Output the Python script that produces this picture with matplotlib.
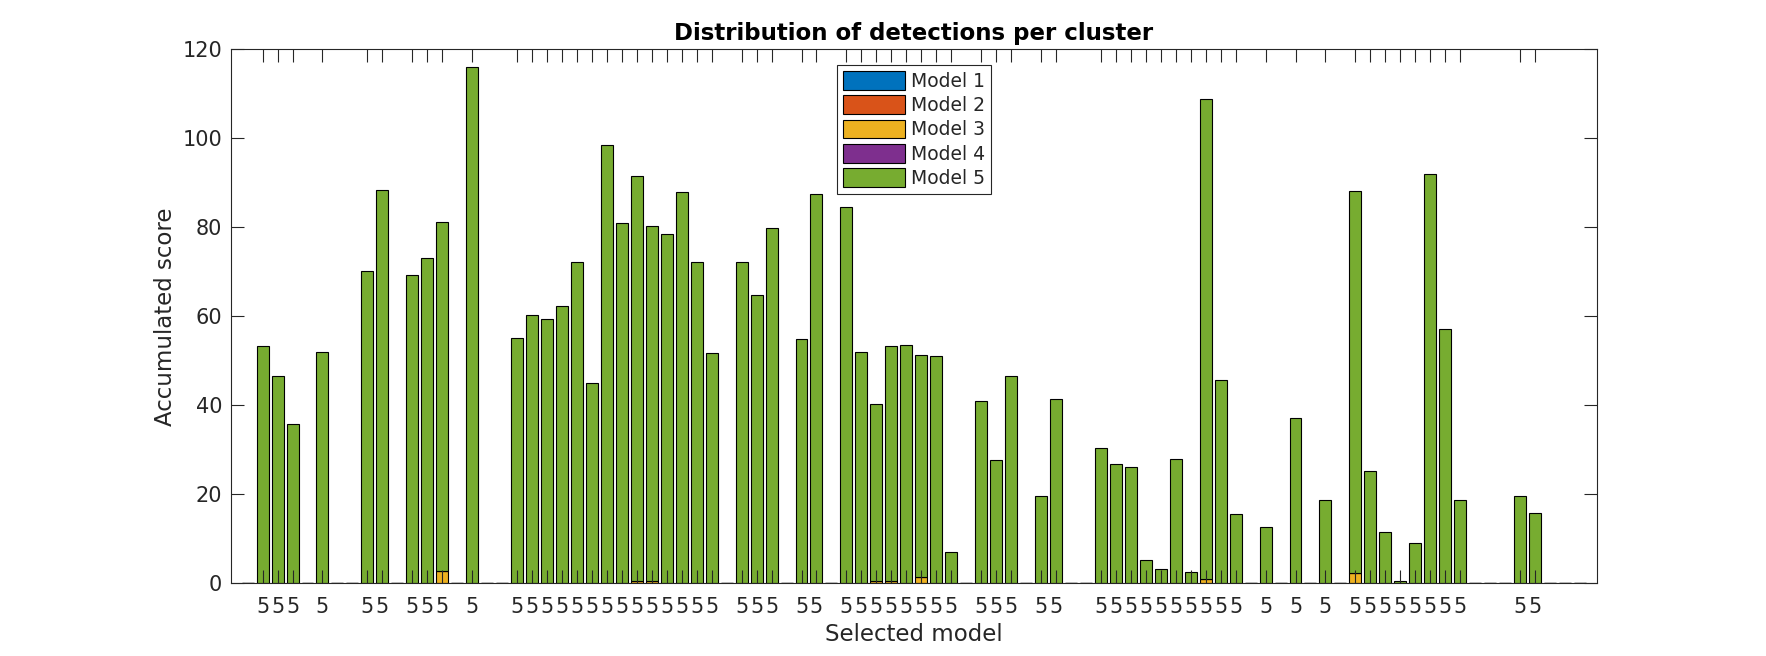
import matplotlib
matplotlib.use("Agg")
import matplotlib.pyplot as plt
import numpy as np

plt.rcParams['font.family'] = ['DejaVu Sans']

# ---- data -------------------------------------------------------------
clusters = list(range(1, 91))
series_names = ["Model 1", "Model 2", "Model 3", "Model 4", "Model 5"]
colors = ["#0072BD", "#D95319", "#EDB120", "#7E2F8E", "#77AC30"]

# accumulated score of Model 3 (non-zero entries only, cluster -> value)
model3_scores = {14: 2.8, 27: 0.5, 28: 0.6, 43: 0.5, 44: 0.6, 46: 1.5,
                 65: 1.0, 75: 2.3}
# total accumulated score per cluster (non-zero entries only)
total_scores = {
    2: 53.3, 3: 46.5, 4: 35.8, 6: 52.0, 9: 70.3, 10: 88.5, 12: 69.4,
    13: 73.2, 14: 81.3, 16: 116.1, 19: 55.2, 20: 60.2, 21: 59.3, 22: 62.4,
    23: 72.3, 24: 45.0, 25: 98.4, 26: 80.9, 27: 91.5, 28: 80.2, 29: 78.4,
    30: 88.0, 31: 72.3, 32: 51.7, 34: 72.1, 35: 64.9, 36: 79.9, 38: 54.8,
    39: 87.5, 41: 84.6, 42: 52.0, 43: 40.2, 44: 53.3, 45: 53.6, 46: 51.3,
    47: 51.0, 48: 7.1, 50: 40.9, 51: 27.7, 52: 46.6, 54: 19.6, 55: 41.4,
    58: 30.4, 59: 26.8, 60: 26.2, 61: 5.3, 62: 3.3, 63: 28.0, 64: 2.6,
    65: 108.8, 66: 45.8, 67: 15.7, 69: 12.6, 71: 37.1, 73: 18.7, 75: 88.2,
    76: 25.3, 77: 11.6, 78: 0.45, 79: 9.1, 80: 92.0, 81: 57.1, 82: 18.8,
    86: 19.6, 87: 15.9,
}
selected_model_label = "5"

model1 = [0.0 for c in clusters]
model2 = [0.0 for c in clusters]
model3 = [model3_scores.get(c, 0.0) for c in clusters]
model4 = [0.0 for c in clusters]
model5 = [total_scores.get(c, 0.0) - model3_scores.get(c, 0.0) for c in clusters]

# ---- figure ------------------------------------------------------------
W, H = 1766, 656
fig = plt.figure(figsize=(W / 100, H / 100), dpi=100)
ax_l, ax_r, ax_t, ax_b = 230.7, 1596.7, 49.3, 583.4
ax = fig.add_axes([ax_l / W, 1 - ax_b / H, (ax_r - ax_l) / W, (ax_b - ax_t) / H])

dark = "#262626"
bottom = np.zeros(len(clusters))
handles = []
for name, vals, col in zip(series_names, [model1, model2, model3, model4, model5], colors):
    b = ax.bar(clusters, vals, width=0.8, bottom=bottom, color=col,
               edgecolor="black", linewidth=0.8, label=name)
    handles.append(b)
    bottom = bottom + np.array(vals)

ax.set_xlim(-0.13, 91.12)
ax.set_ylim(0, 120)
ax.set_yticks(np.arange(0, 121, 20))
ticks = [c for c in clusters if total_scores.get(c, 0) > 0]
ax.set_xticks(ticks)
ax.set_xticklabels([selected_model_label for _ in ticks])

ax.tick_params(axis="both", direction="in", length=9.4, width=0.8,
               top=True, right=True, colors=dark, labelsize=15)
ax.tick_params(axis="x", pad=9.5)
ax.tick_params(axis="y", pad=6.0)
for s in ax.spines.values():
    s.set_color(dark)
    s.set_linewidth(0.8)

ax.set_title("Distribution of detections per cluster", fontsize=16.5,
             fontweight="bold", pad=7, color="black")
ax.set_ylabel("Accumulated score", fontsize=16.5, color=dark, labelpad=4)
ax.set_xlabel("Selected model", fontsize=16.5, color=dark, labelpad=4.5)

leg = ax.legend(handles=handles, loc="upper left",
                bbox_to_anchor=(837.3 / W, 1 - 65.3 / H),
                bbox_transform=fig.transFigure, borderaxespad=0,
                fontsize=13.5, handlelength=3.3, handleheight=1.15,
                handletextpad=0.35, labelspacing=0.25, borderpad=0.3,
                fancybox=False, framealpha=1, edgecolor=dark)
leg.get_frame().set_linewidth(0.8)
for t in leg.get_texts():
    t.set_color(dark)

fig.savefig("out.png", dpi=100)
